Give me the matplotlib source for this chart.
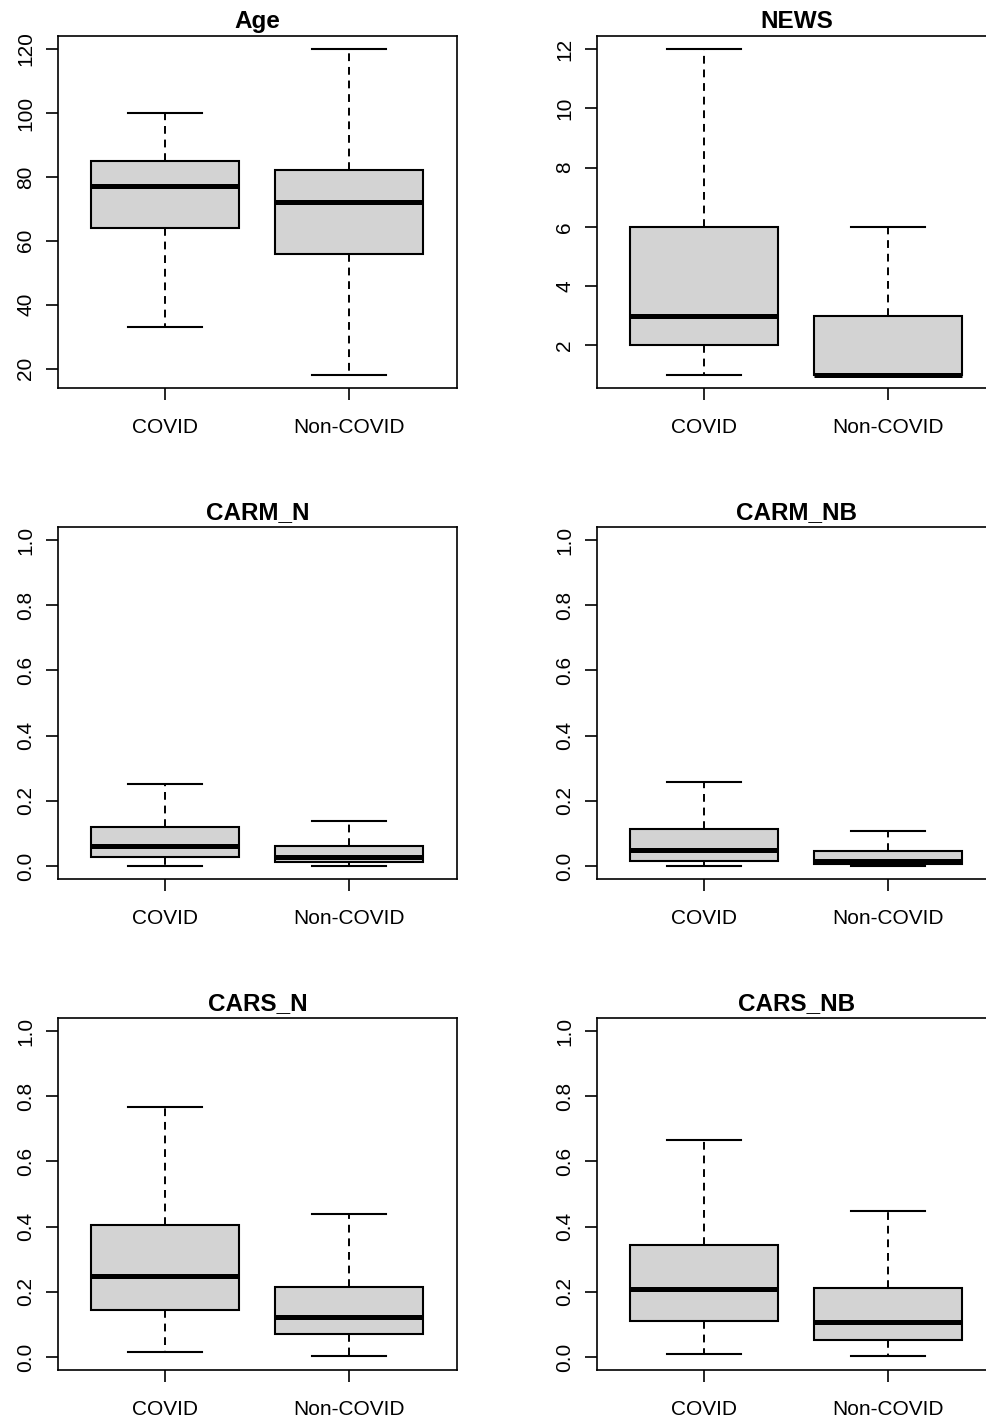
import matplotlib
matplotlib.use("Agg")
import matplotlib.pyplot as plt

groups = ["COVID", "Non-COVID"]
titles = ["Age", "NEWS", "CARM_N", "CARM_NB", "CARS_N", "CARS_NB"]

# five-number summaries per panel: [whislo, q1, median, q3, whishi]
age_covid = [33, 64, 77, 85, 100]
age_non = [18, 56, 72, 82, 120]
news_covid = [1, 2, 3, 6, 12]
news_non = [1, 1, 1, 3, 6]
carmn_covid = [0.0, 0.028, 0.061, 0.12, 0.25]
carmn_non = [0.0, 0.012, 0.026, 0.061, 0.138]
carmnb_covid = [0.0, 0.015, 0.049, 0.113, 0.258]
carmnb_non = [0.0, 0.005, 0.016, 0.046, 0.107]
carsn_covid = [0.015, 0.144, 0.248, 0.405, 0.767]
carsn_non = [0.003, 0.071, 0.123, 0.215, 0.439]
carsnb_covid = [0.009, 0.110, 0.209, 0.344, 0.666]
carsnb_non = [0.003, 0.052, 0.107, 0.212, 0.448]

panels = [
    (age_covid, age_non),
    (news_covid, news_non),
    (carmn_covid, carmn_non),
    (carmnb_covid, carmnb_non),
    (carsn_covid, carsn_non),
    (carsnb_covid, carsnb_non),
]
yticks = [
    [20, 40, 60, 80, 100, 120],
    [2, 4, 6, 8, 10, 12],
    [0.0, 0.2, 0.4, 0.6, 0.8, 1.0],
    [0.0, 0.2, 0.4, 0.6, 0.8, 1.0],
    [0.0, 0.2, 0.4, 0.6, 0.8, 1.0],
    [0.0, 0.2, 0.4, 0.6, 0.8, 1.0],
]
ylims = [(18, 120), (1, 12), (0, 1), (0, 1), (0, 1), (0, 1)]

W, H = 987, 1423
fig = plt.figure(figsize=(W / 100, H / 100), dpi=100)
plt.rcParams["font.family"] = ["Liberation Sans", "DejaVu Sans"]

col_x = [58, 597]
row_top = [36, 527, 1018]
aw, ah = 399, 352

for i, (c, n) in enumerate(panels):
    r, k = divmod(i, 2)
    ax = fig.add_axes([col_x[k] / W, (H - row_top[r] - ah) / H, aw / W, ah / H])
    stats = []
    for lab, s in zip(groups, (c, n)):
        stats.append({"label": lab, "whislo": s[0], "q1": s[1], "med": s[2],
                      "q3": s[3], "whishi": s[4], "fliers": []})
    ax.bxp(stats, positions=[1, 2], widths=0.8, patch_artist=True,
           boxprops=dict(facecolor="#d3d3d3", edgecolor="black", linewidth=1.5),
           medianprops=dict(color="black", linewidth=3.6, solid_capstyle="butt"),
           whiskerprops=dict(color="black", linewidth=1.4, linestyle=(0, (4, 3))),
           capprops=dict(color="black", linewidth=1.5), capwidths=0.4,
           showfliers=False)
    lo, hi = ylims[i]
    pad = (hi - lo) * 0.04
    ax.set_ylim(lo - pad, hi + pad)
    ax.set_xlim(1 - 107 / 184, 1 + 292 / 184)
    ax.set_yticks(yticks[i])
    if i < 2:
        ax.set_yticklabels([str(t) for t in yticks[i]])
    else:
        ax.set_yticklabels(["%.1f" % t for t in yticks[i]])
    ax.set_xticks([1, 2])
    ax.set_xticklabels(groups)
    ax.tick_params(axis="y", labelrotation=90, length=8.5, width=1.2, pad=8,
                   labelsize=15, direction="out")
    ax.tick_params(axis="x", length=8.5, width=1.2, pad=13, labelsize=15)
    for lbl in ax.get_yticklabels():
        lbl.set_va("center")
    for sp in ax.spines.values():
        sp.set_linewidth(1.2)
    ax.set_title(titles[i], fontsize=17.5, fontweight="bold", pad=6)

fig.savefig("out.png", dpi=100)
